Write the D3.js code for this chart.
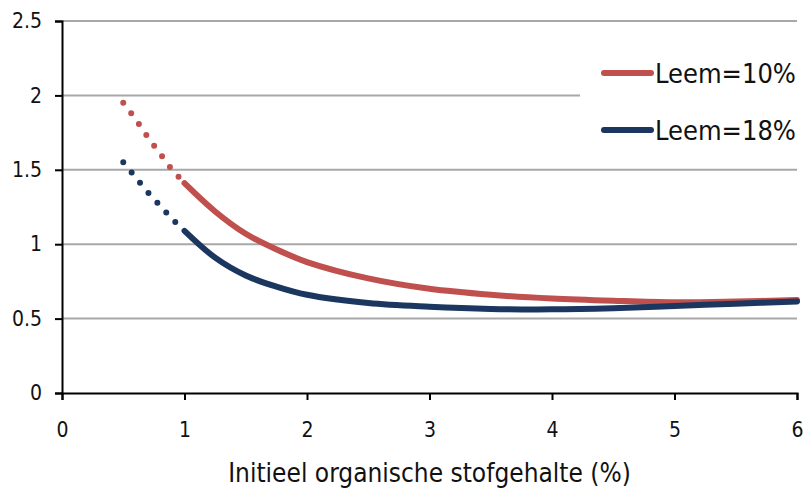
<!DOCTYPE html>
<html>
<head>
<meta charset="utf-8">
<script src="https://cdn.jsdelivr.net/npm/d3@7"></script>
<style>
  body { margin: 0; background: #fff; }
  text { font-family: "DejaVu Sans Condensed", "DejaVu Sans", sans-serif; font-stretch: condensed; }
</style>
</head>
<body>
<div class="chart"></div>
<script>
// values
var x_low = [0.5, 0.6, 0.7, 0.8, 0.9, 1.0];
var x_high = [1, 1.25, 1.5, 1.75, 2, 2.5, 3, 3.5, 4, 4.5, 5, 5.5, 6];
var leem10_low = [1.95, 1.84, 1.72, 1.61, 1.50, 1.41];
var leem10_high = [1.41, 1.22, 1.07, 0.965, 0.88, 0.77, 0.70, 0.66, 0.635, 0.62, 0.61, 0.615, 0.625];
var leem18_low = [1.55, 1.45, 1.35, 1.26, 1.17, 1.09];
var leem18_high = [1.09, 0.91, 0.79, 0.715, 0.66, 0.605, 0.58, 0.565, 0.562, 0.57, 0.585, 0.60, 0.615];
var x_ticks = [0, 1, 2, 3, 4, 5, 6];
var y_ticks = [0, 0.5, 1, 1.5, 2, 2.5];
var series_names = ["Leem=10%", "Leem=18%"];

var colors = ["#C0504D", "#1B365F"];
var width = 805, height = 493;
var margin = { top: 21, right: 8, bottom: 100, left: 62 };
var inner_width = width - margin.left - margin.right;
var inner_height = height - margin.top - margin.bottom;

var svg = d3.select(".chart").append("svg")
  .attr("width", width)
  .attr("height", height);

var g = svg.append("g")
  .attr("transform", "translate(" + margin.left + "," + margin.top + ")");

var x_scale = d3.scaleLinear().domain([0, 6]).range([0, inner_width]);
var y_scale = d3.scaleLinear().domain([0, 2.5]).range([inner_height, 0]);

// gridlines
g.selectAll(".grid")
  .data(y_ticks.filter(d => d > 0))
  .enter()
  .append("line")
    .attr("x1", 0)
    .attr("x2", inner_width)
    .attr("y1", d => y_scale(d))
    .attr("y2", d => y_scale(d))
    .attr("stroke", "#A8A8A8")
    .attr("stroke-width", 2);

// axes
var y_axis = g.append("g")
  .call(d3.axisLeft(y_scale).tickValues(y_ticks).tickFormat(d3.format("")).tickSize(7).tickPadding(13));
var x_axis = g.append("g")
  .attr("transform", "translate(0," + inner_height + ")")
  .call(d3.axisBottom(x_scale).tickValues(x_ticks).tickFormat(d3.format("d")).tickSize(7).tickPadding(22));

[x_axis, y_axis].forEach(function (ax) {
  ax.select(".domain").attr("stroke", "#000").attr("stroke-width", 2);
  ax.selectAll(".tick line").attr("stroke", "#000").attr("stroke-width", 2);
  ax.selectAll(".tick text").attr("font-size", 21).attr("fill", "#111")
    .style("font-family", "'DejaVu Sans Condensed', 'DejaVu Sans', sans-serif");
});

g.append("text")
  .attr("x", inner_width / 2 + 0)
  .attr("y", inner_height + 89)
  .attr("text-anchor", "middle")
  .attr("font-size", 26)
  .attr("fill", "#111")
  .text("Initieel organische stofgehalte (%)");

// legend background covers the grid
var legend = svg.append("g");
legend.append("rect")
  .attr("x", 580).attr("y", 50).attr("width", 225).attr("height", 100)
  .attr("fill", "#fff");

// curves
var line = d3.line()
  .x(d => x_scale(d[0]))
  .y(d => y_scale(d[1]))
  .curve(d3.curveCatmullRom.alpha(0.5));

var series = [
  { low: leem10_low, high: leem10_high },
  { low: leem18_low, high: leem18_high }
];

series.forEach(function (s, i) {
  g.append("path")
    .datum(d3.zip(x_low, s.low))
    .attr("d", line)
    .attr("fill", "none")
    .attr("stroke", colors[i])
    .attr("stroke-width", 6)
    .attr("stroke-linecap", "round")
    .attr("stroke-dasharray", "0 13.2");
  g.append("path")
    .datum(d3.zip(x_high, s.high))
    .attr("d", line)
    .attr("fill", "none")
    .attr("stroke", colors[i])
    .attr("stroke-width", 6)
    .attr("stroke-linecap", "round");
});

// legend entries
var legend_rows = legend.selectAll(".entry")
  .data(series_names)
  .enter()
  .append("g")
    .attr("transform", (d, i) => "translate(602," + (73 + i * 57) + ")");
legend_rows.append("line")
  .attr("x1", 2).attr("x2", 49)
  .attr("stroke", (d, i) => colors[i])
  .attr("stroke-width", 6)
  .attr("stroke-linecap", "round");
legend_rows.append("text")
  .attr("x", 53)
  .attr("y", 10)
  .attr("font-size", 27)
  .attr("fill", "#111")
  .text(d => d);
</script>
</body>
</html>
